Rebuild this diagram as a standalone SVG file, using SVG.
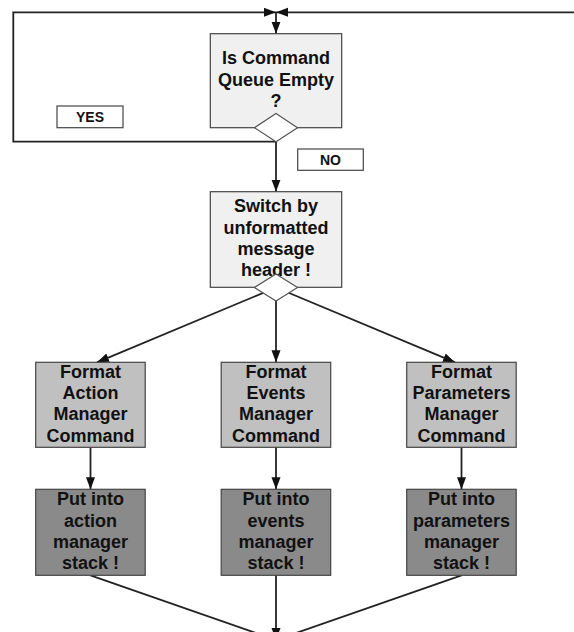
<svg xmlns="http://www.w3.org/2000/svg" width="574" height="632" viewBox="0 0 574 632">
<defs>
<marker id="ah" markerUnits="userSpaceOnUse" markerWidth="12" markerHeight="10" refX="12" refY="4.5" orient="auto">
<path d="M0,0 L12,4.5 L0,9 z" fill="#111"/>
</marker>
<style>
.box{stroke:#444;stroke-width:1.2}
.l1{fill:#f0f0f0}
.l2{fill:#c0c0c0}
.l3{fill:#8a8a8a}
.dia{fill:#fff;stroke:#555;stroke-width:1.2}
.lbl{fill:#fff;stroke:#444;stroke-width:1.2}
.t{font-family:"Liberation Sans",Arial,sans-serif;font-weight:bold;font-size:18px;fill:#111;text-anchor:middle}
.ts{font-family:"Liberation Sans",Arial,sans-serif;font-weight:bold;font-size:14px;fill:#111;text-anchor:middle}
.c{fill:none;stroke:#222;stroke-width:1.8}
.ca{fill:none;stroke:#222;stroke-width:1.8;marker-end:url(#ah)}
</style>
</defs>
<rect width="574" height="632" fill="#fff"/>
<g id="connectors">
<path class="ca" d="M276,141.7 H13.3 V12.3 H276"/>
<path class="ca" d="M590,12.3 H276"/>
<path class="ca" d="M276,12.3 V33.7"/>
<path class="ca" d="M276,141.7 V191.7"/>
<path class="ca" d="M276,287.5 L97,362.3"/>
<path class="ca" d="M276,301 V362.3"/>
<path class="ca" d="M276,287.5 L455,362.3"/>
<path class="ca" d="M90.5,447.3 V489.3"/>
<path class="ca" d="M276,447.3 V489.3"/>
<path class="ca" d="M461.5,447.3 V489.3"/>
<path class="ca" d="M90.5,575.3 L276,640"/>
<path class="ca" d="M276,575.3 V640"/>
<path class="ca" d="M461.5,575.3 L276,640"/>
</g>
<g id="yes-label">
<rect class="lbl" x="57" y="106" width="66" height="21.7"/>
<text class="ts" x="90" y="121.5">YES</text>
</g>
<g id="no-label">
<rect class="lbl" x="297.7" y="149" width="65.6" height="21.3"/>
<text class="ts" x="330.5" y="164.5">NO</text>
</g>
<g id="queue-empty">
<rect class="box l1" x="210.3" y="33.7" width="131.4" height="94"/>
<text class="t" x="276" y="64">Is Command</text>
<text class="t" x="276" y="85.5">Queue Empty</text>
<text class="t" x="276" y="107">?</text>
<polygon class="dia" points="276,113.5 297.5,127.7 276,141.7 254.5,127.7"/>
</g>
<g id="switch-header">
<rect class="box l1" x="210.3" y="191.7" width="131.4" height="95.6"/>
<text class="t" x="276" y="212.4">Switch by</text>
<text class="t" x="276" y="233.7">unformatted</text>
<text class="t" x="276" y="255">message</text>
<text class="t" x="276" y="276.3">header !</text>
<polygon class="dia" points="276,274 297.5,287.5 276,301 254.5,287.5"/>
</g>
<g id="format-action">
<rect class="box l2" x="35.7" y="362.3" width="109.5" height="85"/>
<text class="t" x="90.5" y="377.7">Format</text>
<text class="t" x="90.5" y="399">Action</text>
<text class="t" x="90.5" y="420.3">Manager</text>
<text class="t" x="90.5" y="441.6">Command</text>
</g>
<g id="format-events">
<rect class="box l2" x="221.2" y="362.3" width="109.5" height="85"/>
<text class="t" x="276" y="377.7">Format</text>
<text class="t" x="276" y="399">Events</text>
<text class="t" x="276" y="420.3">Manager</text>
<text class="t" x="276" y="441.6">Command</text>
</g>
<g id="format-parameters">
<rect class="box l2" x="406.7" y="362.3" width="109.5" height="85"/>
<text class="t" x="461.5" y="377.7">Format</text>
<text class="t" x="461.5" y="399">Parameters</text>
<text class="t" x="461.5" y="420.3">Manager</text>
<text class="t" x="461.5" y="441.6">Command</text>
</g>
<g id="put-action">
<rect class="box l3" x="35.7" y="489.3" width="109.5" height="86"/>
<text class="t" x="90.5" y="505.4">Put into</text>
<text class="t" x="90.5" y="526.7">action</text>
<text class="t" x="90.5" y="548">manager</text>
<text class="t" x="90.5" y="569.3">stack !</text>
</g>
<g id="put-events">
<rect class="box l3" x="221.2" y="489.3" width="109.5" height="86"/>
<text class="t" x="276" y="505.4">Put into</text>
<text class="t" x="276" y="526.7">events</text>
<text class="t" x="276" y="548">manager</text>
<text class="t" x="276" y="569.3">stack !</text>
</g>
<g id="put-parameters">
<rect class="box l3" x="406.7" y="489.3" width="109.5" height="86"/>
<text class="t" x="461.5" y="505.4">Put into</text>
<text class="t" x="461.5" y="526.7">parameters</text>
<text class="t" x="461.5" y="548">manager</text>
<text class="t" x="461.5" y="569.3">stack !</text>
</g>
</svg>
